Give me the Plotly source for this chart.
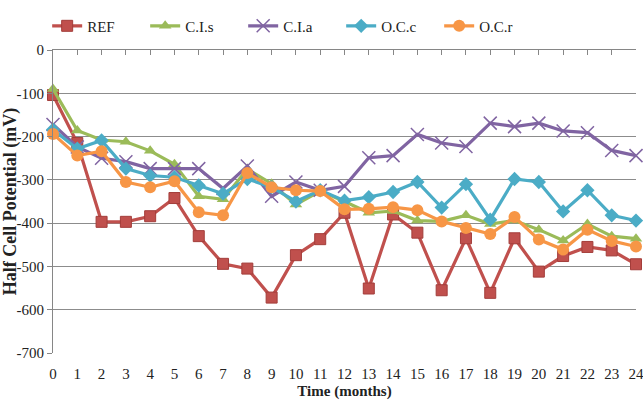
import plotly.graph_objects as go

months = list(range(25))
ref = [-104, -215, -397, -397, -384, -342, -430, -494, -505, -572, -474, -437, -376,
       -551, -380, -422, -555, -435, -561, -435, -512, -476, -455, -463, -495]
cis = [-90, -186, -208, -212, -233, -264, -338, -345, -275, -309, -357, -326, -350,
       -376, -372, -394, -396, -382, -402, -394, -415, -440, -402, -430, -436]
cia = [-172, -224, -250, -258, -274, -274, -274, -320, -268, -338, -305, -324, -315,
       -249, -244, -195, -215, -223, -169, -177, -169, -187, -191, -232, -244]
occ = [-184, -228, -209, -274, -290, -294, -313, -332, -298, -317, -350, -324, -348,
       -340, -328, -305, -364, -310, -392, -298, -305, -373, -324, -382, -394]
ocr = [-194, -244, -234, -305, -317, -303, -375, -382, -284, -317, -324, -326, -368,
       -367, -363, -370, -396, -411, -425, -386, -438, -461, -415, -441, -454]
ytick_vals = [0, -100, -200, -300, -400, -500, -600, -700]
ytick_text = ["0", "-100", "-200", "-300", "-400", "-500", "-600", "-700"]

serif = "Liberation Serif, Times New Roman, serif"

series = [
    ("REF", ref, "#C0504D", dict(symbol="square", size=11, color="#C0504D", line=dict(color="#A33D3A", width=1))),
    ("C.I.s", cis, "#9BBB59", dict(symbol="triangle-up", size=11, color="#9BBB59")),
    ("C.I.a", cia, "#8064A2", dict(symbol="x-thin-open", size=13, color="#8064A2", line=dict(color="#8064A2", width=1.5))),
    ("O.C.c", occ, "#4BACC6", dict(symbol="diamond", size=11, color="#4BACC6")),
    ("O.C.r", ocr, "#F79646", dict(symbol="circle", size=12, color="#F79646")),
]

fig = go.Figure()
for name, vals, col, mk in series:
    fig.add_trace(go.Scatter(x=months, y=vals, name=name, mode="lines+markers",
                             line=dict(color=col, width=3.2), marker=mk, cliponaxis=False))

# top axis (crosses at y=0) with inside ticks
fig.add_trace(go.Scatter(x=[0, 24], y=[0, 0], xaxis="x2", mode="lines",
                         line=dict(width=0), showlegend=False, hoverinfo="skip"))

fig.update_layout(
    width=643, height=400,
    margin=dict(l=53, r=7, t=50, b=47, autoexpand=False),
    paper_bgcolor="white", plot_bgcolor="white",
    font=dict(family=serif, size=15, color="#222"),
    showlegend=True,
    legend=dict(orientation="h", x=-0.01, y=1.079, xanchor="left", yanchor="middle",
                entrywidth=53, entrywidthmode="pixels",
                font=dict(family=serif, size=15, color="#222"), traceorder="normal"),
    xaxis=dict(range=[0, 24], tickmode="array", tickvals=months,
               ticktext=[str(m) for m in months], showgrid=False, zeroline=False,
               showline=False, ticks="", tickfont=dict(family=serif, size=15),
               ticklabelstandoff=10, ticklabeloverflow="allow",
               title=dict(text="<b>Time (months)</b>", font=dict(family=serif, size=15), standoff=4)),
    xaxis2=dict(range=[0, 24], overlaying="x", side="top", anchor="y", position=1,
                tickvals=months, showticklabels=False, ticks="inside", ticklen=5,
                tickcolor="#868686", showline=True, linecolor="#868686", linewidth=1,
                showgrid=False, zeroline=False),
    yaxis=dict(range=[-700, 0], tickmode="array", tickvals=ytick_vals, ticktext=ytick_text,
               showgrid=True, gridcolor="#8C8C8C",
               gridwidth=1, zeroline=False, showline=True, linecolor="#868686",
               ticks="outside", ticklen=5, tickcolor="#868686",
               tickfont=dict(family=serif, size=15),
               title=dict(text="<b>Half Cell Potential (mV)</b>", font=dict(family=serif, size=18), standoff=2)),
)

fig.write_html("out.html")
